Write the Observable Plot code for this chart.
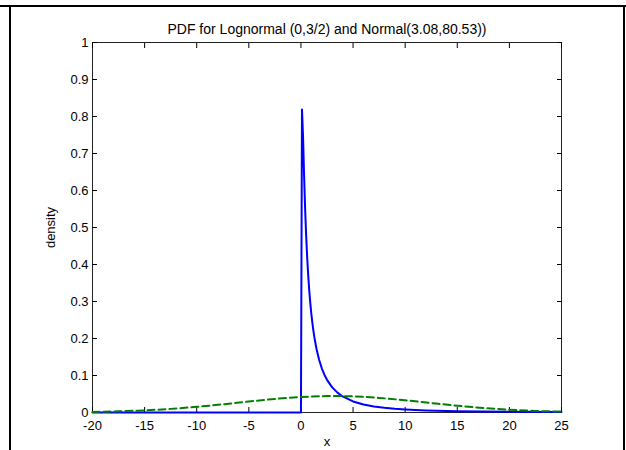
<!DOCTYPE html>
<html><head><meta charset="utf-8">
<script src="https://cdn.jsdelivr.net/npm/d3@7"></script>
<script src="https://cdn.jsdelivr.net/npm/@observablehq/plot@0.6"></script>
<style>
body{margin:0;background:#fff;}
#wrap{position:relative;width:626px;height:450px;overflow:hidden;background:#fff;}
#wrap svg{position:absolute;left:0;top:0;}
.fl{position:absolute;background:#000;}
</style></head><body>
<div id="wrap"></div>
<script>
const titleText = "PDF for Lognormal (0,3/2) and Normal(3.08,80.53))";
const xTicks = [-20, -15, -10, -5, 0, 5, 10, 15, 20, 25];
const yTicks = [0, 0.1, 0.2, 0.3, 0.4, 0.5, 0.6, 0.7, 0.8, 0.9, 1];
const yTickLabels = ["0", "0.1", "0.2", "0.3", "0.4", "0.5", "0.6", "0.7", "0.8", "0.9", "1"];

// Lognormal density (blue solid)
const lognX = [-20, 0, 0.1, 0.2, 0.3, 0.4, 0.5, 0.6, 0.7, 0.8, 0.9, 1.0, 1.1, 1.2, 1.3, 1.5, 1.75, 2, 2.25, 2.5, 3, 3.5, 4, 5, 6, 7, 8, 9, 10, 12, 15, 20, 25];
const lognY = [0, 0, 0.8186, 0.748, 0.642, 0.5517, 0.478, 0.4183, 0.3693, 0.3288, 0.2948, 0.266, 0.2413, 0.22, 0.2015, 0.1709, 0.1418, 0.1195, 0.1021, 0.0883, 0.0678, 0.0536, 0.0434, 0.0299, 0.0217, 0.0164, 0.0127, 0.0101, 0.0082, 0.0056, 0.0035, 0.0018, 0.0011];

// Normal density (green dashed)
const normX = [-20, -17.5, -15, -12.5, -10, -7.5, -5, -2.5, 0, 2.5, 3.08, 5, 7.5, 10, 12.5, 15, 17.5, 20, 22.5, 25];
const normY = [0.0016, 0.0032, 0.0058, 0.0098, 0.0154, 0.0222, 0.0296, 0.0366, 0.0419, 0.0444, 0.0445, 0.0435, 0.0394, 0.0330, 0.0256, 0.0184, 0.0122, 0.0075, 0.0043, 0.0023];

const logn = lognX.map((x, i) => ({x, y: lognY[i]}));
const norm = normX.map((x, i) => ({x, y: normY[i]}));

const font = "'Liberation Sans', Arial, Helvetica, sans-serif";

const chart = Plot.plot({
  width: 626, height: 450,
  marginLeft: 92, marginRight: 65, marginTop: 42, marginBottom: 38,
  style: {fontFamily: font, fontSize: "13px", background: "transparent", color: "#000"},
  x: {domain: [-20, 25], label: null},
  y: {domain: [0, 1], label: null},
  marks: [
    Plot.frame({stroke: "#222"}),
    Plot.axisX(xTicks, {anchor: "bottom", tickSize: -5, tickPadding: 13, fontSize: 13, label: "x", labelAnchor: "center", labelArrow: "none", labelOffset: 33, tickFormat: d => String(d)}),
    Plot.axisX(xTicks, {anchor: "top", tickSize: -5, fill: "none", label: null}),
    Plot.axisY(yTicks, {anchor: "left", tickSize: -5, tickPadding: 9, fontSize: 13, label: "density", labelAnchor: "center", labelArrow: "none", labelOffset: 47, tickFormat: (d, i) => yTickLabels[i]}),
    Plot.axisY(yTicks, {anchor: "right", tickSize: -5, fill: "none", label: null}),
    Plot.line(logn, {x: "x", y: "y", stroke: "#0000ff", strokeWidth: 2}),
    Plot.line(norm, {x: "x", y: "y", stroke: "#008000", strokeWidth: 2, strokeDasharray: "7,4", curve: "monotone-x"}),
    Plot.text([titleText], {frameAnchor: "top", dy: -18, fontSize: 14, fill: "#000"})
  ]
});
const wrap = document.getElementById("wrap");
wrap.appendChild(chart);
for (const s of ["left:0;top:5px;width:626px;height:1.5px", "left:9px;top:5px;width:2px;height:445px", "left:623px;top:5px;width:2px;height:445px"]) {
  const d = document.createElement("div");
  d.className = "fl";
  d.style.cssText = s;
  wrap.appendChild(d);
}
</script>
</body></html>
